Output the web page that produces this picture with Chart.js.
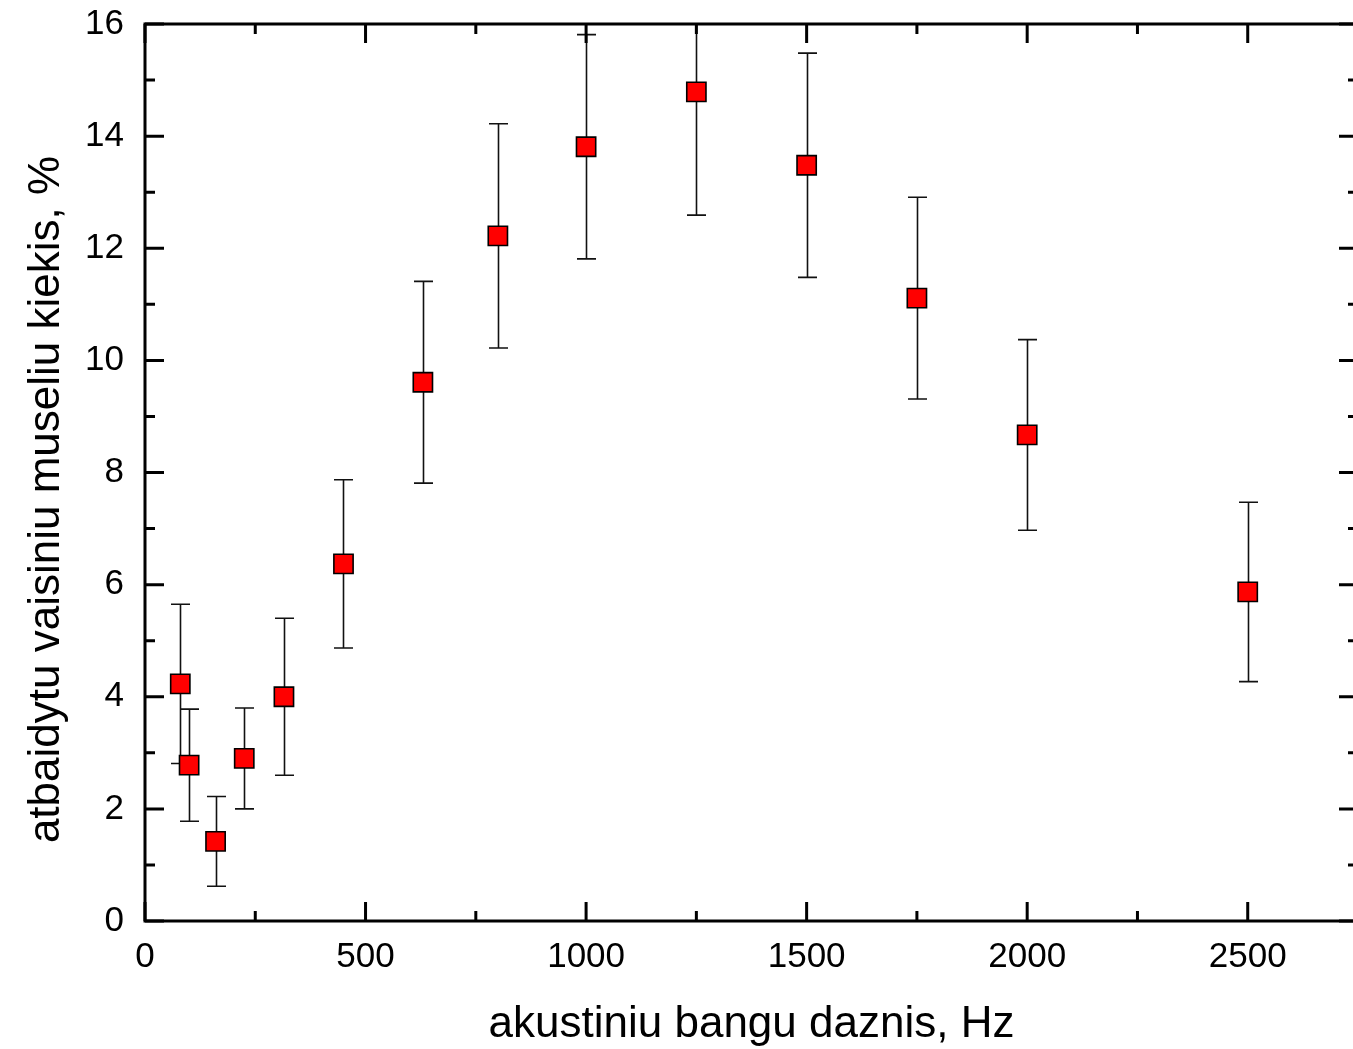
<!DOCTYPE html>
<html><head><meta charset="utf-8">
<script src="https://cdn.jsdelivr.net/npm/chart.js@4.4.0/dist/chart.umd.min.js"></script>
<style>
html,body{margin:0;padding:0;overflow:hidden;background:#fff;width:1353px;height:1049px}
canvas{display:block;position:absolute;left:0;top:0}
</style></head>
<body><canvas id="c" width="1360" height="1049"></canvas>
<script>
// ---- data ----
const frequencies = [80, 100, 160, 225, 315, 450, 630, 800, 1000, 1250, 1500, 1750, 2000, 2500];
const repelled    = [4.23, 2.78, 1.42, 2.90, 4.00, 6.37, 9.61, 12.22, 13.81, 14.79, 13.48, 11.11, 8.67, 5.87];
const errors      = [1.42, 1.00, 0.80, 0.90, 1.40, 1.50, 1.80, 2.00, 2.00, 2.20, 2.00, 1.80, 1.70, 1.60];
const xTickValues = [0, 500, 1000, 1500, 2000, 2500];
const xMinorValues = [250, 750, 1250, 1750, 2250];
const yTickValues = [0, 2, 4, 6, 8, 10, 12, 14, 16];
const yMinorValues = [1, 3, 5, 7, 9, 11, 13, 15];
const xTitle = 'akustiniu bangu daznis, Hz';
const yTitle = 'atbaidytu vaisiniu museliu kiekis, %';

const FONT = '"Liberation Sans", Arial, sans-serif';

const errorBars = {
  id: 'errorBars',
  beforeDatasetsDraw(chart) {
    const {ctx, chartArea: a, scales: {x, y}} = chart;
    ctx.save();
    ctx.beginPath();
    ctx.rect(a.left, a.top, a.right - a.left, a.bottom - a.top);
    ctx.clip();
    ctx.strokeStyle = '#111';
    ctx.lineWidth = 1.6;
    frequencies.forEach((f, i) => {
      const px = Math.round(x.getPixelForValue(f)) + 0.5;
      const yt = y.getPixelForValue(repelled[i] + errors[i]);
      const yb = y.getPixelForValue(repelled[i] - errors[i]);
      ctx.beginPath();
      ctx.moveTo(px, yt); ctx.lineTo(px, yb);
      ctx.moveTo(px - 9.5, yt); ctx.lineTo(px + 9.5, yt);
      ctx.moveTo(px - 9.5, yb); ctx.lineTo(px + 9.5, yb);
      ctx.stroke();
    });
    ctx.restore();
  }
};

const frame = {
  id: 'frame',
  afterLayout(chart) {
    // move the y title centre slightly downward, as in the reference
    chart.scales.y.bottom += 54;
  },
  afterDraw(chart) {
    const {ctx, chartArea: a, scales: {x, y}} = chart;
    ctx.save();
    ctx.strokeStyle = '#000';
    ctx.lineWidth = 3;
    ctx.lineCap = 'butt';
    ctx.strokeRect(a.left, a.top, a.right - a.left, a.bottom - a.top);
    const major = 19, minor = 10;
    ctx.beginPath();
    xTickValues.forEach(v => {
      const p = x.getPixelForValue(v);
      ctx.moveTo(p, a.bottom); ctx.lineTo(p, a.bottom - major);
      ctx.moveTo(p, a.top); ctx.lineTo(p, a.top + major);
    });
    xMinorValues.forEach(v => {
      const p = x.getPixelForValue(v);
      ctx.moveTo(p, a.bottom); ctx.lineTo(p, a.bottom - minor);
      ctx.moveTo(p, a.top); ctx.lineTo(p, a.top + minor);
    });
    yTickValues.forEach(v => {
      const p = y.getPixelForValue(v);
      ctx.moveTo(a.left, p); ctx.lineTo(a.left + major, p);
      ctx.moveTo(a.right, p); ctx.lineTo(a.right - major, p);
    });
    yMinorValues.forEach(v => {
      const p = y.getPixelForValue(v);
      ctx.moveTo(a.left, p); ctx.lineTo(a.left + minor, p);
      ctx.moveTo(a.right, p); ctx.lineTo(a.right - minor, p);
    });
    ctx.stroke();
    ctx.restore();
  }
};

new Chart(document.getElementById('c'), {
  type: 'scatter',
  data: {
    datasets: [{
      data: frequencies.map((f, i) => ({x: f, y: repelled[i]})),
      pointStyle: 'rect',
      pointRadius: 13.6,
      pointHoverRadius: 13.6,
      backgroundColor: '#ff0000',
      borderColor: '#000000',
      borderWidth: 1.6,
      showLine: false
    }]
  },
  options: {
    responsive: false,
    animation: false,
    events: [],
    layout: {autoPadding: false, padding: {top: 24, right: 2, bottom: 0, left: 0}},
    plugins: {legend: {display: false}, tooltip: {enabled: false}},
    scales: {
      x: {
        type: 'linear', min: 0, max: 2750,
        grid: {display: false, drawTicks: false},
        border: {display: false},
        afterFit(s) { s.height = 128; s.paddingLeft = 0; s.paddingRight = 0; },
        afterBuildTicks(s) { s.ticks = xTickValues.map(v => ({value: v})); },
        ticks: {color: '#000', padding: 15, maxRotation: 0, autoSkip: false,
                callback: v => String(v),
                font: {family: FONT, size: 35}},
        title: {display: true, text: xTitle, color: '#000',
                font: {family: FONT, size: 44, lineHeight: 1.1},
                padding: {top: 0, bottom: 0}}
      },
      y: {
        type: 'linear', min: 0, max: 16,
        grid: {display: false, drawTicks: false},
        border: {display: false},
        afterFit(s) { s.width = 145; s.paddingTop = 0; s.paddingBottom = 0; },
        afterBuildTicks(s) { s.ticks = yTickValues.map(v => ({value: v})); },
        ticks: {color: '#000', padding: 21, autoSkip: false,
                callback: v => String(v),
                font: {family: FONT, size: 35}},
        title: {display: true, text: yTitle, color: '#000',
                font: {family: FONT, size: 44, lineHeight: 1.1},
                padding: {top: 23, bottom: 0}}
      }
    }
  },
  plugins: [errorBars, frame]
});
</script>
</body></html>
